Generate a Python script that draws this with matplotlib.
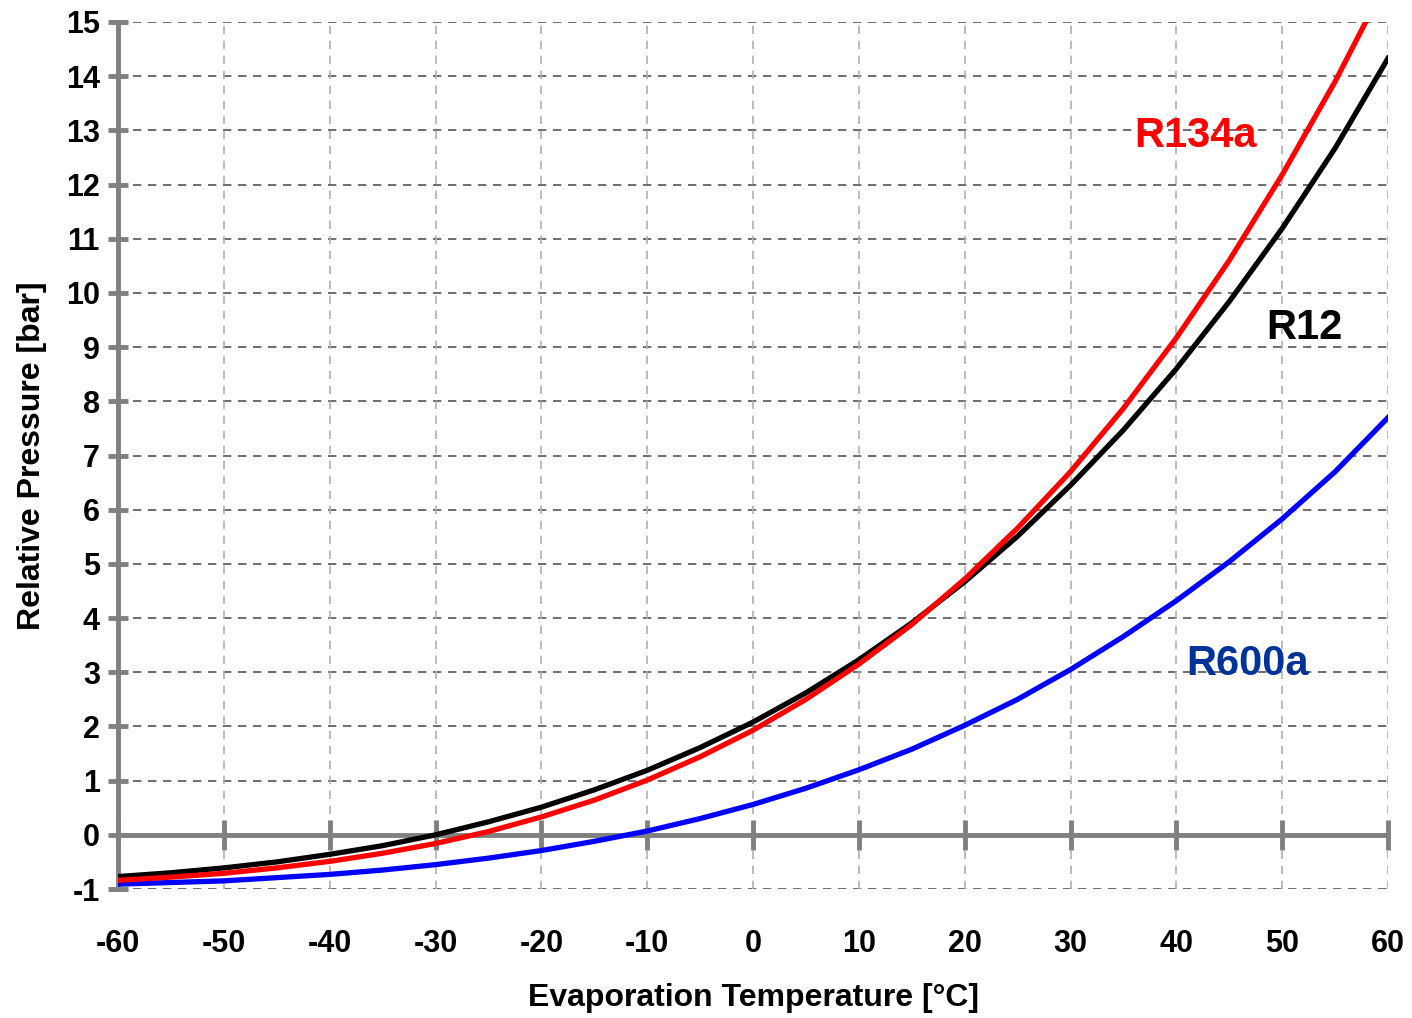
import numpy as np
import matplotlib
matplotlib.use("Agg")
from matplotlib import pyplot as plt

plt.rcParams['font.family'] = ['Liberation Sans', 'DejaVu Sans']
plt.rcParams['axes.unicode_minus'] = False

# evaporation temperature [C]
temp = [-60, -55, -50, -45, -40, -35, -30, -25, -20, -15, -10, -5, 0,
        5, 10, 15, 20, 25, 30, 35, 40, 45, 50, 55, 60]

# relative pressure [bar]
r134a = [-0.84, -0.78, -0.71, -0.61, -0.49, -0.34, -0.16, 0.06, 0.33, 0.64,
         1.01, 1.44, 1.93, 2.50, 3.15, 3.88, 4.72, 5.66, 6.70, 7.87, 9.17,
         10.60, 12.18, 13.90, 15.80]
r12 = [-0.77, -0.70, -0.61, -0.50, -0.36, -0.20, 0.00, 0.24, 0.51, 0.83,
       1.19, 1.61, 2.08, 2.62, 3.23, 3.91, 4.67, 5.51, 6.45, 7.47, 8.60,
       9.84, 11.19, 12.67, 14.33]
r600a = [-0.91, -0.88, -0.85, -0.79, -0.73, -0.65, -0.55, -0.43, -0.29, -0.12,
         0.07, 0.30, 0.56, 0.86, 1.20, 1.58, 2.02, 2.50, 3.05, 3.66, 4.32,
         5.04, 5.83, 6.70, 7.70]

xticks = list(range(-60, 61, 10))
yticks = list(range(-1, 16))

fig = plt.figure(figsize=(14.12, 10.18), dpi=100)
ax = fig.add_axes([0.0836, 0.1267, 0.8994, 0.8517])

ax.set_xlim(-60, 60)
ax.set_ylim(-1, 15)

# grid
for yv in yticks:
    ax.axhline(yv, color='#555555', lw=1.2, ls=(0, (5, 4)), zorder=1)
for xv in xticks:
    ax.axvline(xv, color='#b0b0b0', lw=1.2, ls=(0, (5, 4)), zorder=1)

# zero line with ticks
grey = '#808080'
ax.axhline(0, color=grey, lw=3.5, zorder=2)
ax.plot(xticks, np.zeros(len(xticks)), ls='none', marker='|', ms=22, mew=3.5,
        color=grey, zorder=2, clip_on=False)

ax.plot(temp, r134a, color='#ff0000', lw=3.8, zorder=4)
ax.plot(temp, r12, color='#000000', lw=3.8, zorder=3)
ax.plot(temp, r600a, color='#0000ff', lw=3.8, zorder=3)

for s in ['top', 'right', 'bottom']:
    ax.spines[s].set_visible(False)
ax.spines['left'].set_color(grey)
ax.spines['left'].set_linewidth(3.5)
ax.spines['left'].set_zorder(2)

ax.set_xticks(xticks)
ax.set_yticks(yticks)
ax.tick_params(axis='x', length=0, pad=29, labelsize=22)
ax.tick_params(axis='y', direction='inout', length=14, width=3.5, color=grey,
               pad=6, labelsize=22)
for lab in ax.get_xticklabels() + ax.get_yticklabels():
    lab.set_fontweight('bold')

ax.set_xlabel('Evaporation Temperature [°C]', fontsize=23, fontweight='bold',
              labelpad=17)
ax.set_ylabel('Relative Pressure [bar]', fontsize=23, fontweight='bold',
              labelpad=14)

ax.text(41.8, 12.9, 'R134a', color='#ff0000', fontsize=30, fontweight='bold',
        ha='center', va='center')
ax.text(52.1, 9.35, 'R12', color='#000000', fontsize=30, fontweight='bold',
        ha='center', va='center')
ax.text(46.7, 3.15, 'R600a', color='#003399', fontsize=30, fontweight='bold',
        ha='center', va='center')

fig.savefig('out.png', dpi=100)
